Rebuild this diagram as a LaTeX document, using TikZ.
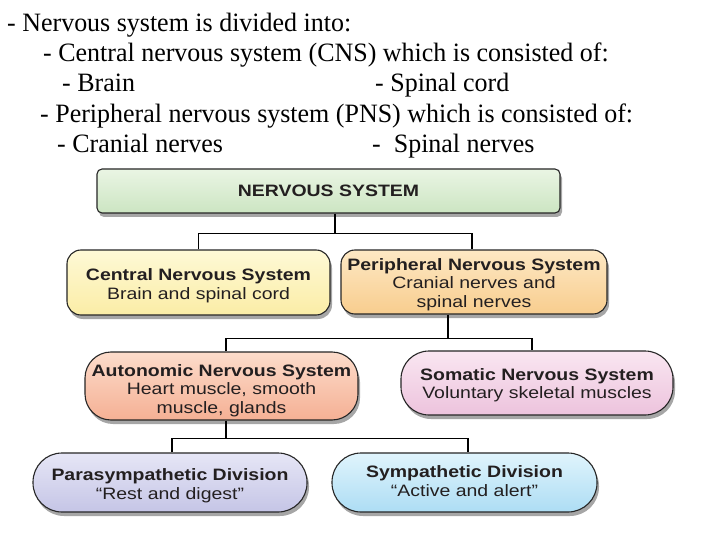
\documentclass[tikz,border=0pt]{standalone}
\usepackage{fontspec}
\setmainfont{Liberation Serif}
\newfontfamily\boxfont{Liberation Sans}
\usetikzlibrary{shadows}
\definecolor{nsA}{HTML}{EAF5E4}\definecolor{nsB}{HTML}{CCE5C2}
\definecolor{cnsA}{HTML}{FEF9D6}\definecolor{cnsB}{HTML}{FBEDA6}
\definecolor{pnsA}{HTML}{FDE8C4}\definecolor{pnsB}{HTML}{F8CD8E}
\definecolor{ansA}{HTML}{FCDCCB}\definecolor{ansB}{HTML}{F5B094}
\definecolor{somA}{HTML}{F9E6F1}\definecolor{somB}{HTML}{EDC3DD}
\definecolor{parA}{HTML}{E6E6F6}\definecolor{parB}{HTML}{C5C5E6}
\definecolor{symA}{HTML}{E0F4FC}\definecolor{symB}{HTML}{ADDDF4}
\definecolor{txt}{HTML}{231F20}
\newcommand\hl[1]{\scalebox{1.18}[1]{#1}}
\newcommand\tl[1]{\scalebox{0.98}[1]{#1}}
\newcommand\bt[2][-3pt]{\raisebox{#1}[\height][\depth]{\begin{tabular}{@{}c@{}}#2\end{tabular}}}
\tikzset{
  topline/.style={anchor=base west,inner sep=0pt,font=\fontsize{26.5}{30}\selectfont},
  nbox/.style={draw=black!85,line width=1.1pt,text=txt,align=center,inner sep=0pt,
    font=\boxfont\fontsize{16.5}{18.5}\selectfont,
    drop shadow={shadow xshift=2pt,shadow yshift=-4pt,fill=black,opacity=0.35}},
  conn/.style={draw=black,line width=1.1pt}
}
\begin{document}
\begin{tikzpicture}[x=1pt,y=-1pt]
\useasboundingbox[fill=white] (0,0) rectangle (720,540);
% header text
\node[topline] (l1) at (7,31.5) {\tl{- Nervous system is divided into:}};
\node[topline] (l2) at (43,62) {\tl{- Central nervous system (CNS) which is consisted of:}};
\node[topline] (l3a) at (62,92) {\tl{- Brain}};
\node[topline] (l3b) at (375,92) {\tl{- Spinal cord}};
\node[topline] (l4) at (40,123) {\tl{- Peripheral nervous system (PNS) which is consisted of:}};
\node[topline] (l5a) at (57,153) {\tl{- Cranial nerves}};
\node[topline] (l5b) at (372,153) {\tl{-\ \ Spinal nerves}};
% boxes
\node[nbox,rounded corners=5pt,top color=nsA,bottom color=nsB,minimum width=463pt,minimum height=44pt]
  (NS) at (328.5,191) {\bfseries\hl{NERVOUS SYSTEM}};
\node[nbox,rounded corners=14pt,top color=cnsA,bottom color=cnsB,minimum width=263pt,minimum height=65pt]
  (CNS) at (198.5,282.5) {\bt[-4pt]{\bfseries\hl{Central Nervous System}\\\hl{Brain and spinal cord}}};
\node[nbox,rounded corners=14pt,top color=pnsA,bottom color=pnsB,minimum width=266pt,minimum height=64pt]
  (PNS) at (474,282) {\bt{\bfseries\hl{Peripheral Nervous System}\\\hl{Cranial nerves and}\\\hl{spinal nerves}}};
\node[nbox,rounded corners=26pt,top color=ansA,bottom color=ansB,minimum width=273pt,minimum height=68pt]
  (ANS) at (221.5,386) {\bt[-5pt]{\bfseries\hl{Autonomic Nervous System}\\\hl{Heart muscle, smooth}\\\hl{muscle, glands}}};
\node[nbox,rounded corners=28pt,top color=somA,bottom color=somB,minimum width=272pt,minimum height=64pt]
  (SOM) at (537,383) {\bt{\bfseries\hl{Somatic Nervous System}\\\hl{Voluntary skeletal muscles}}};
\node[nbox,rounded corners=29pt,top color=parA,bottom color=parB,minimum width=274pt,minimum height=59pt]
  (PAR) at (170,482.5) {\bt[-4pt]{\bfseries\hl{Parasympathetic Division}\\\hl{“Rest and digest”}}};
\node[nbox,rounded corners=29pt,top color=symA,bottom color=symB,minimum width=265pt,minimum height=59pt]
  (SYM) at (464.5,482.5) {\bt[-1pt]{\bfseries\hl{Sympathetic Division}\\\hl{“Active and alert”}}};
% connectors
\coordinate (j1) at ([yshift=-20pt,xshift=6.5pt]NS.south);
\draw[conn] ([xshift=6.5pt]NS.south) -- (j1);
\draw[conn] (CNS.north) |- (j1) -| ([xshift=-2pt]PNS.north);
\coordinate (j2) at ([yshift=-24pt,xshift=-26pt]PNS.south);
\draw[conn] ([xshift=-26pt]PNS.south) -- (j2);
\draw[conn] ([xshift=4.5pt]ANS.north) |- (j2) -| ([xshift=-5pt]SOM.north);
\coordinate (j3) at ([yshift=-18pt,xshift=4.5pt]ANS.south);
\draw[conn] ([xshift=4.5pt]ANS.south) -- (j3);
\draw[conn] ([xshift=2pt]PAR.north) |- (j3) -| ([xshift=3.5pt]SYM.north);
\end{tikzpicture}
\end{document}
